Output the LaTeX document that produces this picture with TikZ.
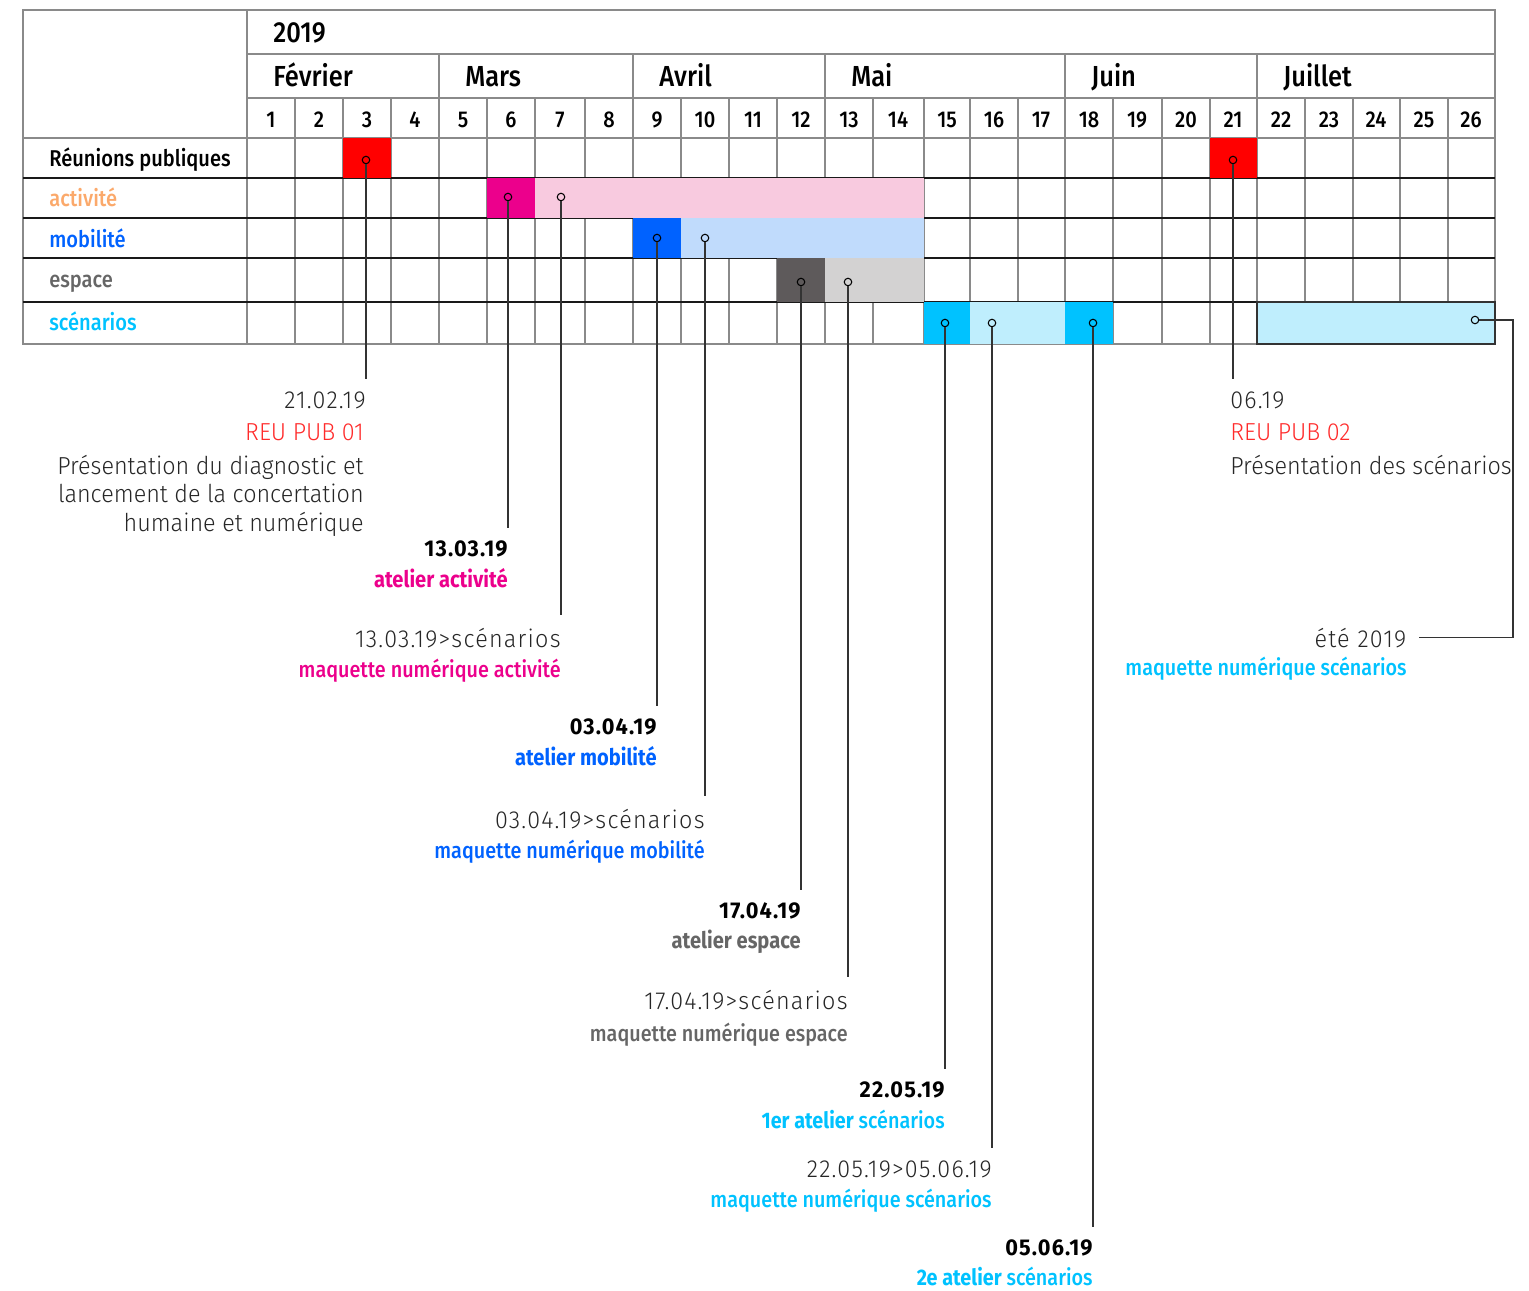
\documentclass[tikz,border=0pt]{standalone}
\usepackage{fontspec}
\setmainfont{Fira Sans}[FakeStretch=0.88]
\newfontfamily\fleger{Fira Sans Light}[FakeStretch=0.95]
\newfontfamily\flegerch{Fira Sans Light}[FakeStretch=0.95,LetterSpace=5]
\newfontfamily\fgrasch{Fira Sans Bold}[FakeStretch=0.95,LetterSpace=5]
\newfontfamily\fmoyen{Fira Sans Medium}[FakeStretch=0.88]
\usetikzlibrary{positioning}

\definecolor{rougecase}{HTML}{FF0000}
\definecolor{rougetxt}{HTML}{FF2B2B}
\definecolor{acttxt}{HTML}{FBA96B}
\definecolor{actfonce}{HTML}{EC008C}
\definecolor{actclair}{HTML}{F8CADF}
\definecolor{mobfonce}{HTML}{0062FF}
\definecolor{mobclair}{HTML}{C0DBFC}
\definecolor{espfonce}{HTML}{5E5A5B}
\definecolor{espclair}{HTML}{D3D2D2}
\definecolor{esptxt}{HTML}{666666}
\definecolor{scefonce}{HTML}{00C2FF}
\definecolor{sceclair}{HTML}{BFEEFD}
\definecolor{grille}{HTML}{8A8A8A}
\definecolor{texte}{HTML}{262626}

\begin{document}
\begin{tikzpicture}[
	x=0.02cm,y=-0.02cm,
	gris/.style={grille,line width=1.1pt},
	ligne/.style={black!90,line width=0.6pt},
	annee/.style={font=\fmoyen\fontsize{16.5}{19}\selectfont,anchor=base west,inner sep=0pt},
	mois/.style={font=\fmoyen\fontsize{16.5}{19}\selectfont,anchor=base west,inner sep=0pt},
	jour/.style={font=\fmoyen\fontsize{13}{15}\selectfont,anchor=base,inner sep=0pt},
	rang/.style={font=\fmoyen\fontsize{13}{15}\selectfont,anchor=base west,inner sep=0pt},
	pastille/.style={draw,circle,minimum size=0.15cm,inner sep=0pt,line width=0.6pt},
	trait/.style={black!80,line width=0.9pt},
	leger/.style={font=\fleger\fontsize{14}{16}\selectfont,text=texte,anchor=base east,inner xsep=0pt,inner ysep=7pt},
	chiffre/.style={leger,font=\flegerch\fontsize{14}{16}\selectfont},
	gras/.style={font=\fgrasch\fontsize{13}{15}\selectfont,anchor=base east,inner xsep=0pt,inner ysep=7pt},
	atelier/.style={font=\bfseries\fontsize{13}{15}\selectfont,anchor=base east,inner xsep=0pt},
	sous/.style={font=\fmoyen\fontsize{12.8}{15}\selectfont,anchor=base east,inner xsep=0pt}
	]
	\useasboundingbox (0,0) rectangle (1529,1291);

	% grille du calendrier
	\draw[gris] (23,10) rectangle (1495,344);
	\draw[gris] (247,10) -- (247,344);
	\draw[gris] (247,54) -- (1495,54);
	\draw[gris] (247,98) -- (1495,98);
	\draw[gris] (23,138) -- (1495,138);
	\foreach \x in {295,343,391,439,487,535,585,633,681,729,777,825,873,924,970,1018,1065,1113,1162,1210,1257,1305,1353,1400,1448}
		\draw[gris] (\x,98) -- (\x,344);
	\foreach \x in {439,633,825,1065,1257}
		\draw[gris] (\x,54) -- (\x,98);
	\foreach \y in {178,218,258,302}
		\draw[ligne] (23,\y) -- (1495,\y);

	% en-tetes
	\node[annee] (an) at (273,43) {2019};
	\node[mois] (fev) at (273,87) {Février};
	\node[mois] (mar) at (465,87) {Mars};
	\node[mois] (avr) at (659,87) {Avril};
	\node[mois] (mai) at (851,87) {Mai};
	\node[mois] (juin) at (1091,87) {Juin};
	\node[mois] (juil) at (1283,87) {Juillet};
	\foreach \j/\x in {1/271,2/319,3/367,4/415,5/463,6/511,7/560,8/609,9/657,10/705,11/753,12/801,13/849,14/898,15/947,16/994,17/1041,18/1089,19/1137,20/1186,21/1233,22/1281,23/1329,24/1376,25/1424,26/1471}
		\node[jour] (j\j) at (\x,128) {\j};

	% lignes
	\node[rang] (reu) at (49,167) {Réunions publiques};
	\node[rang,text=acttxt] (act) at (49,207) {activité};
	\node[rang,text=mobfonce] (mob) at (49,247) {mobilité};
	\node[rang,text=esptxt] (esp) at (49,287) {espace};
	\node[rang,text=scefonce] (sce) at (49,330) {scénarios};

	% periodes
	\fill[rougecase] (343,138) rectangle (391,178);
	\fill[rougecase] (1210,138) rectangle (1257,178);
	\fill[actfonce] (487,178) rectangle (535,218);
	\fill[actclair] (535,178) rectangle (924,218);
	\fill[mobfonce] (633,218) rectangle (681,258);
	\fill[mobclair] (681,218) rectangle (924,258);
	\fill[espfonce] (777,258) rectangle (825,302);
	\fill[espclair] (825,258) rectangle (924,302);
	\fill[scefonce] (924,302) rectangle (970,344);
	\fill[sceclair] (970,302) rectangle (1065,344);
	\fill[scefonce] (1065,302) rectangle (1113,344);
	\filldraw[fill=sceclair,draw=black!80,line width=0.6pt] (1257,302) rectangle (1495,344);

	% pastilles
	\node[pastille] (d3) at (366,160) {};
	\node[pastille] (d21) at (1233,160) {};
	\node[pastille] (d6) at (508,197) {};
	\node[pastille] (d7) at (561,197) {};
	\node[pastille] (d9) at (657,238) {};
	\node[pastille] (d10) at (705,238) {};
	\node[pastille] (d12) at (801,282) {};
	\node[pastille] (d13) at (848,282) {};
	\node[pastille] (d15) at (945,323) {};
	\node[pastille] (d16) at (992,323) {};
	\node[pastille] (d18) at (1093,323) {};
	\node[pastille] (d26) at (1475,320) {};

	% reunions publiques
	\node[chiffre] (t3a) at (366,408) {21.02.19};
	\node[leger,text=rougetxt] (t3b) at (364,440) {REU PUB 01};
	\node[leger] (t3c) at (364,474) {Présentation du diagnostic et};
	\node[leger] (t3d) at (364,502) {lancement de la concertation};
	\node[leger] (t3e) at (364,531) {humaine et numérique};
	\node[chiffre,anchor=base west] (t21a) at (1230,408) {06.19};
	\node[leger,anchor=base west,text=rougetxt] (t21b) at (1230,440) {REU PUB 02};
	\node[leger,anchor=base west] (t21c) at (1230,474) {Présentation des scénarios};

	% activite
	\node[gras] (t6a) at (508,556) {13.03.19};
	\node[atelier,text=actfonce] (t6b) at (508,587) {atelier activité};
	\node[chiffre] (t7a) at (561,647) {13.03.19>scénarios};
	\node[sous,text=actfonce] (t7b) at (561,677) {maquette numérique activité};

	% mobilite
	\node[gras] (t9a) at (657,734) {03.04.19};
	\node[atelier,text=mobfonce] (t9b) at (657,765) {atelier mobilité};
	\node[chiffre] (t10a) at (705,828) {03.04.19>scénarios};
	\node[sous,text=mobfonce] (t10b) at (705,858) {maquette numérique mobilité};

	% espace
	\node[gras] (t12a) at (801,918) {17.04.19};
	\node[atelier,text=esptxt] (t12b) at (801,948) {atelier espace};
	\node[chiffre] (t13a) at (848,1009) {17.04.19>scénarios};
	\node[sous,text=esptxt] (t13b) at (848,1041) {maquette numérique espace};

	% scenarios
	\node[gras] (t15a) at (945,1097) {22.05.19};
	\node[sous,text=scefonce] (t15b) at (945,1128) {{\rmfamily\bfseries 1er atelier} scénarios};
	\node[chiffre] (t16a) at (992,1177) {22.05.19>05.06.19};
	\node[sous,text=scefonce] (t16b) at (992,1207) {maquette numérique scénarios};
	\node[gras] (t18a) at (1093,1255) {05.06.19};
	\node[sous,text=scefonce] (t18b) at (1093,1285) {{\rmfamily\bfseries 2e atelier} scénarios};
	\node[chiffre,inner xsep=7pt] (t26a) at (1419,647) {été 2019};
	\node[sous,text=scefonce] (t26b) at (1407,675) {maquette numérique scénarios};

	% renvois
	\draw[trait] (d3) -- (d3 |- t3a.north);
	\draw[trait] (d21) -- (d21 |- t21a.north);
	\draw[trait] (d6) -- (d6 |- t6a.north);
	\draw[trait] (d7) -- (d7 |- t7a.north);
	\draw[trait] (d9) -- (d9 |- t9a.north);
	\draw[trait] (d10) -- (d10 |- t10a.north);
	\draw[trait] (d12) -- (d12 |- t12a.north);
	\draw[trait] (d13) -- (d13 |- t13a.north);
	\draw[trait] (d15) -- (d15 |- t15a.north);
	\draw[trait] (d16) -- (d16 |- t16a.north);
	\draw[trait] (d18) -- (d18 |- t18a.north);
	\draw[trait] (d26) -- ++(38,0) |- (t26a.east);
\end{tikzpicture}
\end{document}
